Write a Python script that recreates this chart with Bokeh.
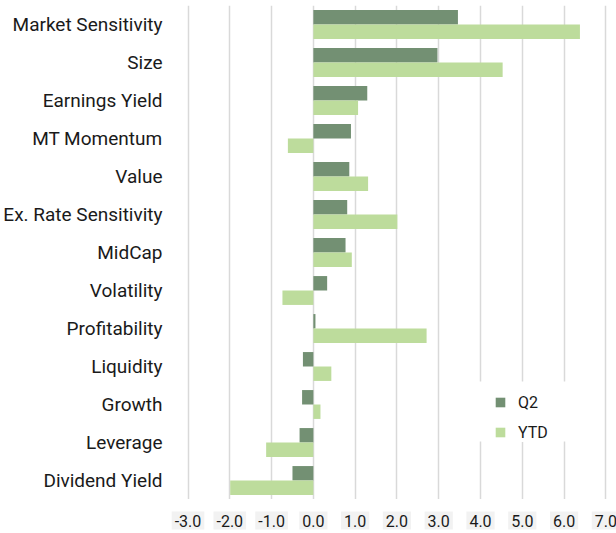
from bokeh.plotting import figure
from bokeh.models import (FactorRange, Range1d, FixedTicker, Legend, LegendItem,
                          ColumnDataSource, BoxAnnotation)
from bokeh.layouts import column
from bokeh.core.properties import value
from bokeh.transform import dodge
from bokeh.embed import file_html
from bokeh.resources import INLINE

categories = ["Market Sensitivity", "Size", "Earnings Yield", "MT Momentum", "Value",
              "Ex. Rate Sensitivity", "MidCap", "Volatility", "Profitability", "Liquidity",
              "Growth", "Leverage", "Dividend Yield"]
q2 = [3.46, 2.97, 1.29, 0.90, 0.86, 0.81, 0.77, 0.33, 0.05, -0.25, -0.27, -0.33, -0.50]
ytd = [6.38, 4.53, 1.07, -0.61, 1.31, 2.01, 0.92, -0.74, 2.71, 0.43, 0.17, -1.13, -1.99]
x_ticks = [-3, -2, -1, 0, 1, 2, 3, 4, 5, 6, 7]
x_tick_labels = [f"{t:.1f}" for t in x_ticks]

FONT = "Roboto"
Q2_COLOR = "#739073"
YTD_COLOR = "#bddc9c"
TEXT_COLOR = "#1a1a1a"

W = 616
LEFT = 150
xr = Range1d(-3.85, 7.255)
yr = FactorRange(factors=list(reversed(categories)), range_padding=0)
p = figure(width=W, height=499, y_range=yr, x_range=xr, x_axis_location=None,
           output_backend="svg", toolbar_location=None)
p.min_border_left = LEFT
p.min_border_right = 0
p.min_border_top = 5
p.min_border_bottom = 0
p.outline_line_color = None

source = ColumnDataSource(dict(cat=categories, q2=q2, ytd=ytd))
r1 = p.hbar(y=dodge("cat", 0.19, range=yr), right="q2", left=0, height=0.38,
            source=source, fill_color=Q2_COLOR, line_color=None)
r2 = p.hbar(y=dodge("cat", -0.19, range=yr), right="ytd", left=0, height=0.38,
            source=source, fill_color=YTD_COLOR, line_color=None)

p.xgrid.ticker = FixedTicker(ticks=x_ticks)
p.xgrid.grid_line_color = "#d9d9d9"
p.xgrid.grid_line_width = 1.5
p.ygrid.grid_line_color = None

ya = p.yaxis[0]
ya.axis_line_color = None
ya.major_tick_line_color = None
ya.major_tick_out = 0
ya.major_tick_in = 0
ya.major_label_standoff = -10
ya.major_label_text_font = FONT
ya.major_label_text_font_size = "19px"
ya.major_label_text_color = TEXT_COLOR

# white backdrop of the legend area (covers the grid lines like the original)
p.add_layout(BoxAnnotation(left=472, right=570, top=381, bottom=441,
                           left_units="canvas", right_units="canvas",
                           top_units="canvas", bottom_units="canvas",
                           fill_color="white", fill_alpha=1, line_color=None))

legend = Legend(items=[LegendItem(label="Q2", renderers=[r1]), LegendItem(label="YTD", renderers=[r2])],
                location=(342, 57))
legend.background_fill_color = "white"
legend.background_fill_alpha = 1
legend.border_line_color = None
legend.glyph_width = 12
legend.glyph_height = 12
legend.label_height = 20
legend.spacing = 10
legend.padding = 6
legend.margin = 0
legend.label_text_font = FONT
legend.label_text_font_size = "16px"
legend.label_text_color = TEXT_COLOR
legend.label_standoff = 12
p.add_layout(legend, "center")

# tick-label strip below the chart, on the same x scale
q = figure(width=W, height=34, x_range=xr, y_range=Range1d(0, 34),
           x_axis_location=None, y_axis_location=None,
           output_backend="svg", toolbar_location=None)
q.min_border_left = LEFT
q.min_border_right = 0
q.min_border_top = 0
q.min_border_bottom = 0
q.outline_line_color = None
q.grid.visible = False
tick_src = ColumnDataSource(dict(x=x_ticks, label=x_tick_labels, y=[13] * len(x_ticks)))
q.text(x="x", y="y", text="label", source=tick_src, text_align="center",
       text_baseline="middle", text_font=value(FONT), text_font_size="16px",
       text_color=TEXT_COLOR, background_fill_color="#f2f2f2", padding=3)

layout = column(p, q, spacing=0)
open("out.html", "w").write(file_html(layout, INLINE))
